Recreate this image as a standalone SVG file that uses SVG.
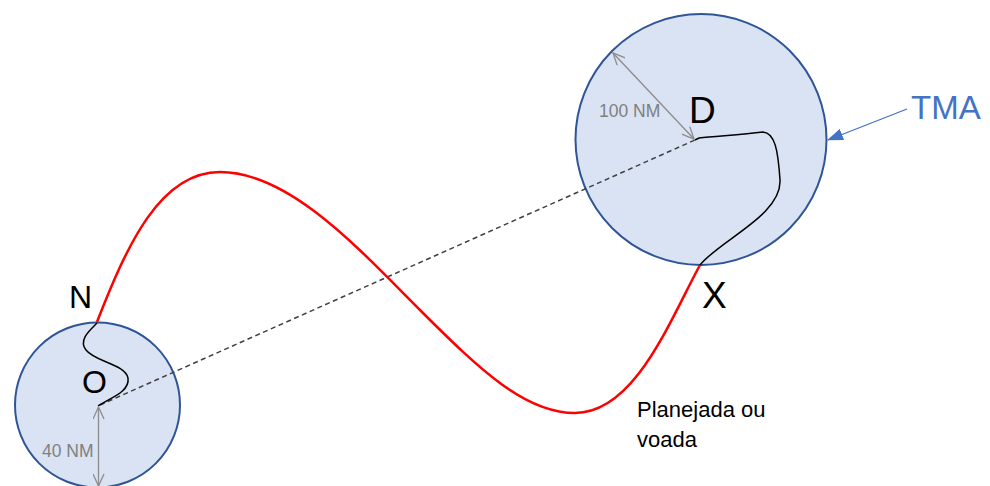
<svg xmlns="http://www.w3.org/2000/svg" width="990" height="486" viewBox="0 0 990 486">
<style>
.zone{fill:#DAE3F3;stroke:#2F5597;stroke-width:2}
.lbl{font-family:"Liberation Sans",Arial,sans-serif;fill:#000}
.dim{font-family:"Liberation Sans",Arial,sans-serif;fill:#808080;font-size:17.5px}
.dimline{stroke:#8C8C8C;stroke-width:1.3;fill:none}
.wig{stroke:#000;stroke-width:1.5;fill:none}
</style>
<defs>
<marker id="open" viewBox="0 0 14 12" refX="13" refY="6" markerWidth="14" markerHeight="12" markerUnits="userSpaceOnUse" orient="auto-start-reverse">
<path d="M1,0.5 L13,6 L1,11.5" fill="none" stroke="#8C8C8C" stroke-width="1.3"/>
</marker>
<marker id="tri" viewBox="0 0 16 12" refX="15" refY="6" markerWidth="16" markerHeight="12" markerUnits="userSpaceOnUse" orient="auto">
<path d="M0,0 L16,6 L0,12 Z" fill="#4472C4"/>
</marker>
</defs>
<g id="origin">
<circle class="zone" cx="97.5" cy="405" r="82.5"/>
<text class="lbl" x="82" y="393" font-size="32">O</text>
</g>
<g id="destination">
<circle class="zone" cx="701" cy="139.5" r="125.5"/>
<text class="lbl" x="689" y="123" font-size="37">D</text>
</g>
<g id="labels">
<text class="lbl" x="69" y="308" font-size="32">N</text>
<text class="lbl" x="702" y="308" font-size="37">X</text>
<text class="lbl" x="637" y="417" font-size="22" fill="#1a1a1a">Planejada ou</text>
<text class="lbl" x="637" y="447" font-size="22" fill="#1a1a1a">voada</text>
<text class="dim" x="599" y="117">100 NM</text>
<text class="dim" x="42" y="457">40 NM</text>
<text x="911" y="119" font-family="Liberation Sans,Arial,sans-serif" font-size="33" fill="#4472C4">TMA</text>
</g>
<g id="connectors">
<line x1="100" y1="405" x2="695" y2="140" stroke="#404040" stroke-width="1.5" stroke-dasharray="5,3.5"/>
<path d="M97,322 C127,245 160,172 220,172 C290,172 360,250 420,310 C480,370 525,413 575,413 C635,413 670,320 700,265" fill="none" stroke="#FF0000" stroke-width="2.5"/>
<path class="wig" d="M97,323 C90,330 78,340 86,350 C95,362 125,364 128,378 C130,392 110,398 98,406"/>
<path class="wig" d="M695,140 L699,138 C715,136 740,135 763,132 C775,133 778,150 780,180 C782,215 720,240 700,265"/>
<line class="dimline" x1="98.5" y1="407" x2="98.5" y2="486" marker-start="url(#open)" marker-end="url(#open)"/>
<line class="dimline" x1="613" y1="53" x2="694" y2="139" marker-start="url(#open)" marker-end="url(#open)"/>
<line x1="907" y1="109" x2="828" y2="140" stroke="#4472C4" stroke-width="1.3" marker-end="url(#tri)"/>
</g>
</svg>
